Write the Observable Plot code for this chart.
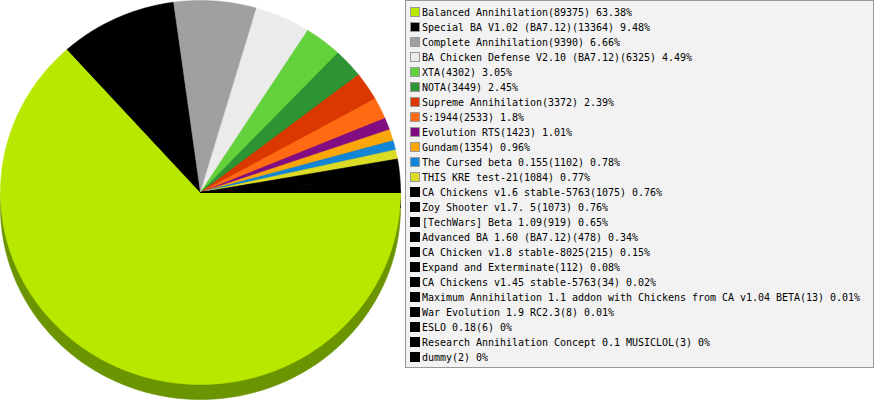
<!DOCTYPE html>
<html>
<head>
<meta charset="utf-8">
<script src="https://cdn.jsdelivr.net/npm/d3@7"></script>
<script src="https://cdn.jsdelivr.net/npm/@observablehq/plot@0.6"></script>
<style>
  body { margin: 0; background: #fff; }
  #wrap { position: relative; width: 875px; height: 400px; overflow: hidden; }
  #chart { position: absolute; left: 0; top: 0; }
  #legend { position: absolute; left: 405px; top: 0; }
  #legend text { font-family: "DejaVu Sans Mono", "Liberation Mono", "DejaVu Sans", sans-serif; font-size: 10px; fill: #000; }
</style>
</head>
<body>
<div id="wrap">
  <div id="chart"></div>
  <div id="legend"></div>
</div>
<script>
const names = [
  "Balanced Annihilation",
  "Special BA V1.02 (BA7.12)",
  "Complete Annihilation",
  "BA Chicken Defense V2.10 (BA7.12)",
  "XTA",
  "NOTA",
  "Supreme Annihilation",
  "S:1944",
  "Evolution RTS",
  "Gundam",
  "The Cursed beta 0.155",
  "THIS KRE test-21",
  "CA Chickens v1.6 stable-5763",
  "Zoy Shooter v1.7. 5",
  "[TechWars] Beta 1.09",
  "Advanced BA 1.60 (BA7.12)",
  "CA Chicken v1.8 stable-8025",
  "Expand and Exterminate",
  "CA Chickens v1.45 stable-5763",
  "Maximum Annihilation 1.1 addon with Chickens from CA v1.04 BETA",
  "War Evolution 1.9 RC2.3",
  "ESLO 0.18",
  "Research Annihilation Concept 0.1 MUSICLOL",
  "dummy"
];
const counts = [89375, 13364, 9390, 6325, 4302, 3449, 3372, 2533, 1423, 1354, 1102, 1084,
                1075, 1073, 919, 478, 215, 112, 34, 13, 8, 6, 3, 2];
const percents = ["63.38%", "9.48%", "6.66%", "4.49%", "3.05%", "2.45%", "2.39%", "1.8%",
                  "1.01%", "0.96%", "0.78%", "0.77%", "0.76%", "0.76%", "0.65%", "0.34%",
                  "0.15%", "0.08%", "0.02%", "0.01%", "0.01%", "0%", "0%", "0%"];
const palette = ["#b9e800", "#000000", "#a0a0a0", "#ebebeb", "#63d13b", "#2e9433", "#da3800",
                 "#ff6a12", "#820d82", "#fba70a", "#1285d7", "#dcdc26"];
const colorOf = i => i < palette.length ? palette[i] : "#000000";
const shadowOf = c => { const h = d3.hsl(c); h.l *= 0.64; h.h += 5; return h.formatHex(); };

// Pie geometry (angles from the counts), starting at 3 o'clock, clockwise
const arcs = d3.pie().sort(null).startAngle(Math.PI / 2).endAngle(Math.PI / 2 + 2 * Math.PI)(counts);
const pts = [];
arcs.forEach((a, i) => {
  const name = names[i], color = colorOf(i), shadow = shadowOf(color);
  const n = Math.max(2, Math.ceil((a.endAngle - a.startAngle) / (Math.PI / 360)));
  pts.push({name, color, shadow, x: 0, y: 0});
  for (let k = 0; k <= n; k++) {
    const t = a.startAngle + (a.endAngle - a.startAngle) * k / n;
    pts.push({name, color, shadow, x: Math.sin(t), y: Math.cos(t)});
  }
  pts.push({name, color, shadow, x: 0, y: 0});
});

const chart = Plot.plot({
  width: 875,
  height: 400,
  margin: 0,
  x: {domain: [-1, 1], range: [0, 400], axis: null},
  y: {domain: [-1, 1], range: [384, 0], axis: null},
  color: {type: "identity"},
  marks: [
    Plot.line(pts, {x: "x", y: "y", z: "name", fill: "shadow", stroke: "shadow", strokeWidth: 0.6, dy: 15, curve: "linear"}),
    Plot.line(pts, {x: "x", y: "y", z: "name", fill: "color", stroke: "color", strokeWidth: 0.6, curve: "linear"})
  ]
});
document.getElementById("chart").appendChild(chart);

// Legend: boxed list, labels spread to a monospaced 6px-per-character width
const CHAR_W = 6, ROW_H = 15, LW = 469, LH = 368;
const svg = d3.select("#legend").append("svg").attr("width", LW).attr("height", LH);
svg.append("rect").attr("x", 0.5).attr("y", 0.5).attr("width", LW - 1).attr("height", LH - 1)
  .attr("fill", "#f2f2f2").attr("stroke", "#999");
names.forEach((name, i) => {
  const cy = 12 + ROW_H * i;
  const g = svg.append("g");
  const bordered = i < palette.length;
  g.append("rect").attr("x", 5.5).attr("y", cy - 4.5).attr("width", 9).attr("height", 9)
    .attr("fill", colorOf(i)).attr("stroke", bordered ? "#999" : "#000");
  const label = `${name}(${counts[i]}) ${percents[i]}`;
  g.append("text").attr("x", 17).attr("y", cy + 4)
    .attr("textLength", label.length * CHAR_W).attr("lengthAdjust", "spacing")
    .text(label);
});
</script>
</body>
</html>
